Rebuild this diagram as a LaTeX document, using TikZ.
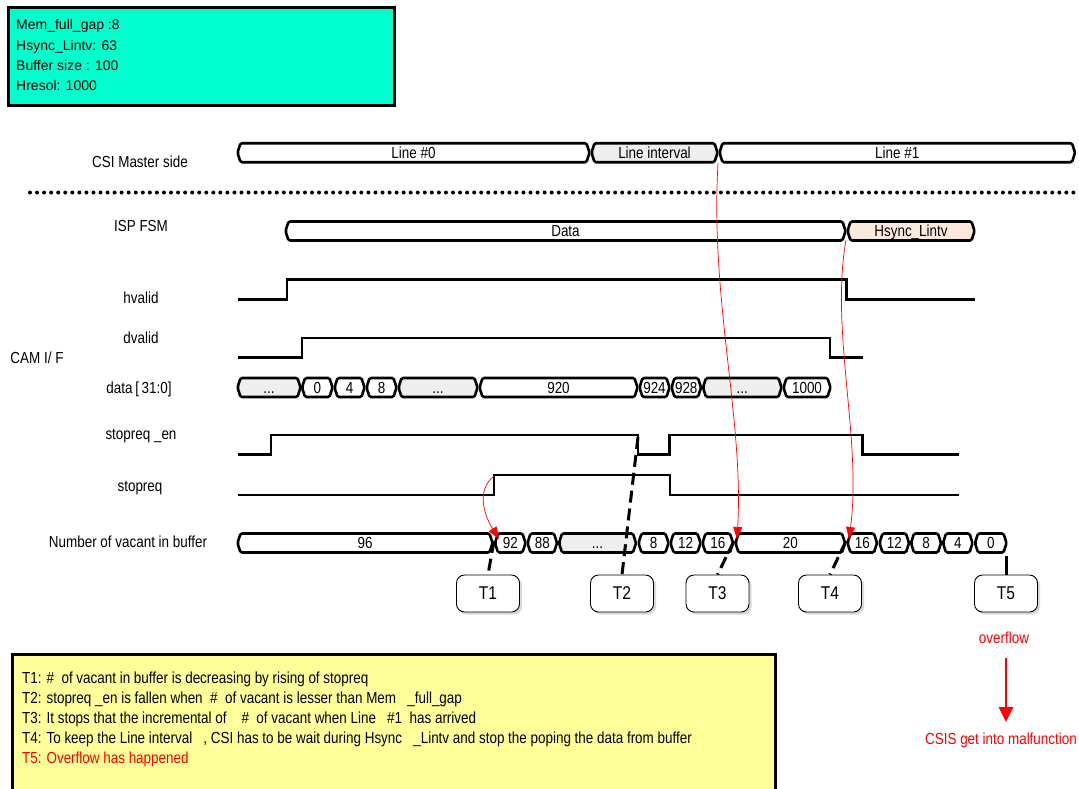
\documentclass[tikz,border=0pt]{standalone}
\usepackage{fontspec}
\setmainfont{Liberation Sans}
\newfontfamily\condfont[FakeStretch=0.84]{Liberation Sans}
\usetikzlibrary{arrows.meta,shadows}
\definecolor{boxcyan}{RGB}{0,255,204}
\definecolor{boxyellow}{RGB}{255,255,153}
\definecolor{cellgray}{RGB}{238,238,238}
\definecolor{peach}{RGB}{253,233,219}
\newcommand\lblf{\condfont\fontsize{16}{19}\selectfont}
\newcommand\bcell[6]{%
  \draw[cellline,fill=#5] ({#2+3},{#4-9.5}) -- ({#3-3},{#4-9.5}) -- (#3,#4) -- ({#3-3},{#4+9.5}) -- ({#2+3},{#4+9.5}) -- (#2,#4) -- cycle;
  \node[celltext] (#1) at ({(#2+#3)/2},#4) {#6};}
\tikzset{
  cellline/.style={line width=2.6pt, rounded corners=1.5pt, line join=round},
  celltext/.style={inner sep=0pt, font=\lblf, text height=11.4pt, text depth=0pt},
  lbl/.style={inner sep=0pt, font=\lblf},
  sig/.style={line width=2.6pt, line join=miter},
  tbox/.style={draw, line width=0.9pt, rounded corners=8pt, minimum width=63pt, minimum height=37pt, fill=white, font=\condfont\fontsize{18.5}{20}\selectfont, drop shadow={shadow xshift=2.5pt, shadow yshift=-2.5pt, fill=black!30}},
  tline/.style={line width=3pt},
  tdash/.style={line width=3pt, dash pattern=on 12pt off 6pt},
  redarr/.style={red, line width=0.7pt, -{Triangle[length=12pt,width=9pt]}},
  note/.style={inner sep=0pt, anchor=base west, font=\lblf},
  param/.style={inner sep=0pt, anchor=base west, font=\fontsize{14}{16}\selectfont},
}
\begin{document}
\begin{tikzpicture}[x=1pt,y=-1pt]
\path[use as bounding box] (0,0) rectangle (1079,788);

% parameter box
\node[draw, line width=3pt, fill=boxcyan, minimum width=386pt, minimum height=98pt, anchor=north west, inner sep=0pt] (params) at (6.5,6) {};
\node[param] (p1) at (16,29.5) {Mem\_full\_gap~:8};
\node[param] (p2) at (16,50) {Hsync\_Lintv: 63};
\node[param] (p3) at (16,70.5) {Buffer size~: 100};
\node[param] (p4) at (16,90) {Hresol: 1000};

% labels
\node[lbl] (lcsi) at (140,162) {CSI Master side};
\node[lbl] (lisp) at (141,226) {ISP FSM};
\node[lbl] (lhv) at (141,298) {hvalid};
\node[lbl] (ldv) at (141,338) {dvalid};
\node[lbl] (lcam) at (37,358) {CAM I/ F};
\node[lbl] (ldata) at (139,389) {data\,[\,31:0]};
\node[lbl] (lsen) at (141,436) {stopreq \_en};
\node[lbl] (lsr) at (140,488) {stopreq};
\node[lbl] (lvac) at (128,542) {Number of vacant in buffer};

% dotted separator
\draw[line width=4pt, line cap=round, dash pattern=on 0pt off 7.05pt] (30,192.5) -- (1079,192.5);

% CSI master bus
\bcell{c0}{237.5}{589.5}{152.7}{white}{Line \#0}
\bcell{c1}{591.5}{717.5}{152.7}{cellgray}{Line interval}
\bcell{c2}{719.5}{1075}{152.7}{white}{Line \#1}

% ISP FSM bus
\bcell{f0}{285.5}{845.5}{231}{white}{Data}
\bcell{f1}{847.5}{974.5}{231}{peach}{Hsync\_Lintv}

% data bus
\bcell{d0}{237.5}{300.5}{387.5}{cellgray}{...}
\bcell{d1}{302}{332.5}{387.5}{white}{0}
\bcell{d2}{334.5}{364.5}{387.5}{white}{4}
\bcell{d3}{366.5}{396.5}{387.5}{white}{8}
\bcell{d4}{398.5}{477.5}{387.5}{cellgray}{...}
\bcell{d5}{479.5}{637.5}{387.5}{white}{920}
\bcell{d6}{639.5}{669.5}{387.5}{white}{924}
\bcell{d7}{671.5}{701}{387.5}{white}{928}
\bcell{d8}{703}{781.5}{387.5}{cellgray}{...}
\bcell{d9}{783.5}{830.5}{387.5}{white}{1000}

% vacant bus
\bcell{v0}{237.5}{492.5}{543}{white}{96}
\bcell{v1}{495}{525.5}{543}{white}{92}
\bcell{v2}{527.5}{557}{543}{white}{88}
\bcell{v3}{559}{636}{543}{cellgray}{...}
\bcell{v4}{638.5}{668.5}{543}{white}{8}
\bcell{v5}{670.5}{700.5}{543}{white}{12}
\bcell{v6}{702.5}{733}{543}{white}{16}
\bcell{v7}{735.5}{845}{543}{white}{20}
\bcell{v8}{847.5}{877}{543}{white}{16}
\bcell{v9}{879.5}{909}{543}{white}{12}
\bcell{v10}{911}{941}{543}{white}{8}
\bcell{v11}{943}{972.5}{543}{white}{4}
\bcell{v12}{975}{1006.5}{543}{white}{0}

% waveforms
\draw[sig] (238,299.3) -- (287,299.3) -- (287,279.5) -- (846.5,279.5) -- (846.5,299.3) -- (975,299.3);
\draw[sig] (238,357.7) -- (302,357.7) -- (302,338) -- (830,338) -- (830,357.7) -- (862.5,357.7);
\draw[sig] (238,454.5) -- (271,454.5) -- (271,435) -- (638,435) -- (638,454.5) -- (669.5,454.5) -- (669.5,435) -- (862.5,435) -- (862.5,454.5) -- (958.5,454.5);
\draw[sig] (238,495) -- (494,495) -- (494,475) -- (670,475) -- (670,495) -- (958.5,495);

% T boxes
\node[tbox] (t1) at (488,593.5) {T1};
\node[tbox] (t2) at (622,593.5) {T2};
\node[tbox] (t3) at (717.5,593.5) {T3};
\node[tbox] (t4) at (830,593.5) {T4};
\node[tbox] (t5) at (1006,593.5) {T5};

\coordinate (t1s) at (494,541);
\coordinate (t2s) at (638,437);
\coordinate (t3s) at (734,541);
\coordinate (t4s) at (846,541);
\coordinate (t5s) at (1006,556);
\draw[tdash] (t1s) -- (t1.north);
\draw[tdash] (t2s) -- (t2.north);
\draw[tdash] (t3s) -- (t3.north);
\draw[tdash] (t4s) -- (t4.north);
\draw[tline] (t5s) -- (t5.north);

% red cause arrows
\coordinate (r1s) at (494,476);
\coordinate (r1e) at (499,539);
\coordinate (r3s) at (718,163);
\coordinate (r3e) at (737,539);
\coordinate (r4s) at (846,240);
\coordinate (r4e) at (849,539);
\draw[redarr] (r1s) .. controls (476,490) and (484,515) .. (r1e);
\draw[redarr] (r3s) .. controls (710,300) and (744,420) .. (r3e);
\draw[redarr] (r4s) .. controls (830,330) and (862,440) .. (r4e);

% overflow
\node[lbl, text=red] (ovf) at (1004,638) {overflow};
\node[lbl, text=red] (mal) at (1001,740) {CSIS get into malfunction};
\coordinate (ovs) at (1006,658);
\coordinate (ove) at (1006,722);
\draw[red, line width=2.8pt, -{Triangle[length=15pt,width=14pt]}] (ovs) -- (ove);

% notes box
\node[draw, line width=3pt, fill=boxyellow, minimum width=763pt, minimum height=137pt, anchor=north west, inner sep=0pt] (notes) at (10.5,652.5) {};
\node[note] (n1) at (22,683) {T1: \#~ of vacant in buffer is decreasing by rising of stopreq};
\node[note] (n2) at (22,703) {T2: stopreq \_en is fallen when~ \#~ of vacant is lesser than Mem~~ \_full\_gap};
\node[note] (n3) at (22,723) {T3: It stops that the incremental of~~~ \#~ of vacant when Line~~ \#1~ has arrived};
\node[note] (n4) at (22,743) {T4: To keep the Line interval~~ , CSI has to be wait during Hsync~~ \_Lintv and stop the poping the data from buffer};
\node[note, text=red] (n5) at (22,763) {T5: Overflow has happened};
\end{tikzpicture}
\end{document}
